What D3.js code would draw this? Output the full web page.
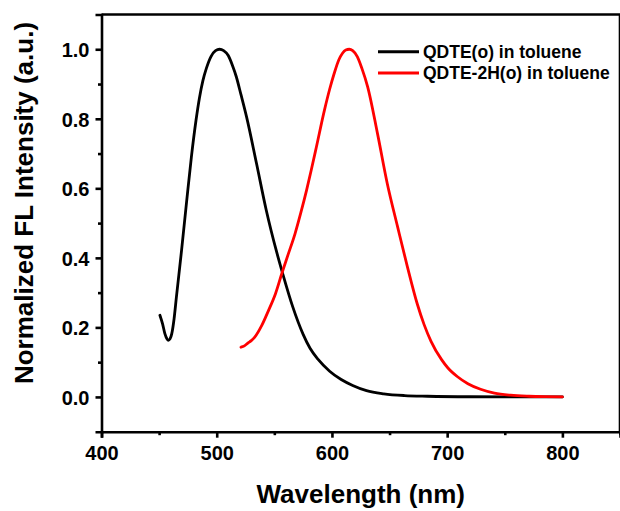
<!DOCTYPE html>
<html>
<head>
<meta charset="utf-8">
<script src="https://cdn.jsdelivr.net/npm/d3@7/dist/d3.min.js"></script>
<style>
  html, body { margin: 0; padding: 0; background: #fff; }
  svg text { font-family: "Liberation Sans", Arial, Helvetica, sans-serif; font-weight: bold; fill: #000; }
</style>
</head>
<body>
<svg id="chart" width="620" height="511"></svg>
<script>
// ---- data ----
const seriesNames = ["QDTE(o) in toluene", "QDTE-2H(o) in toluene"];
const seriesColors = ["#000000", "#ff0000"];

const blackWavelength = [450.7, 453, 455, 457, 458, 459.5, 461, 463, 465, 469.5, 474, 478, 482, 485, 488, 491, 495, 499, 502.5, 506, 510, 513.5, 517, 521, 526, 534.5, 543, 552, 557.5, 566, 575, 581, 588, 598, 608, 618, 630, 645, 663, 683, 720, 760, 800];
const blackIntensity  = [0.235, 0.21, 0.182, 0.166, 0.163, 0.167, 0.182, 0.225, 0.287, 0.422, 0.566, 0.69, 0.795, 0.86, 0.91, 0.945, 0.979, 0.996, 1.0, 0.996, 0.982, 0.955, 0.921, 0.87, 0.804, 0.672, 0.537, 0.417, 0.352, 0.259, 0.18, 0.14, 0.108, 0.074, 0.05, 0.033, 0.018, 0.009, 0.004, 0.002, 0.0005, 0.0002, 0];

const redWavelength = [521, 524, 527, 530, 533, 539, 545, 551, 556.5, 562, 568, 573, 578, 582, 586.5, 593.5, 598, 602, 606, 609, 612, 615, 618, 622, 626, 631, 639.5, 648, 657, 665.5, 674, 680, 686, 695, 700.5, 709, 718, 729, 741, 755, 771, 785, 800];
const redIntensity  = [0.143, 0.147, 0.155, 0.162, 0.172, 0.205, 0.249, 0.297, 0.355, 0.41, 0.47, 0.53, 0.595, 0.652, 0.719, 0.825, 0.885, 0.931, 0.97, 0.988, 0.998, 1.0, 0.996, 0.979, 0.945, 0.892, 0.758, 0.614, 0.489, 0.374, 0.268, 0.208, 0.16, 0.108, 0.084, 0.058, 0.038, 0.022, 0.011, 0.005, 0.002, 0.0007, 0];

const xTicks = [400, 500, 600, 700, 800];
const xMinorTicks = [450, 550, 650, 750, 850];
const yTicks = [0.0, 0.2, 0.4, 0.6, 0.8, 1.0];
const yMinorTicks = [0.1, 0.3, 0.5, 0.7, 0.9];

const xTitle = "Wavelength (nm)";
const yTitle = "Normalized FL Intensity (a.u.)";

// ---- layout ----
const svg = d3.select("#chart");
const mLeft = 101.5, mRight = 620, mTop = 14.5, mBottom = 431.7;

const x = d3.scaleLinear().domain([400, 850]).range([mLeft, mRight]);
const y = d3.scaleLinear().domain([-0.1, 1.1]).range([mBottom, mTop]);

// curves
const line = d3.line().x(d => x(d[0])).y(d => y(d[1])).curve(d3.curveMonotoneX);
const series = [
  d3.zip(blackWavelength, blackIntensity),
  d3.zip(redWavelength, redIntensity)
];
series.forEach((s, i) => {
  svg.append("path").datum(s)
    .attr("d", line)
    .attr("fill", "none")
    .attr("stroke", seriesColors[i])
    .attr("stroke-width", 2.8)
    .attr("stroke-linejoin", "round")
    .attr("stroke-linecap", "round");
});

// frame (top & right)
svg.append("line").attr("x1", mLeft).attr("x2", mRight).attr("y1", mTop).attr("y2", mTop)
  .attr("stroke", "#000").attr("stroke-width", 2.6);
svg.append("line").attr("x1", mRight).attr("x2", mRight).attr("y1", mTop).attr("y2", mBottom)
  .attr("stroke", "#000").attr("stroke-width", 2.6);

// axes
const xAxis = svg.append("g").attr("transform", `translate(0,${mBottom})`)
  .call(d3.axisBottom(x).tickValues(xTicks).tickFormat(d3.format("d")).tickSize(6).tickPadding(8));
const xMinor = svg.append("g").attr("transform", `translate(0,${mBottom})`)
  .call(d3.axisBottom(x).tickValues(xMinorTicks).tickFormat("").tickSize(3.5));
const yAxis = svg.append("g").attr("transform", `translate(${mLeft},0)`)
  .call(d3.axisLeft(y).tickValues(yTicks).tickFormat(d3.format(".1f")).tickSize(6).tickPadding(6));
const yMinor = svg.append("g").attr("transform", `translate(${mLeft},0)`)
  .call(d3.axisLeft(y).tickValues(yMinorTicks).tickFormat("").tickSize(3.5));

[xAxis, xMinor, yAxis, yMinor].forEach(g => {
  g.select(".domain").attr("stroke", "#000").attr("stroke-width", 2.6);
  g.selectAll(".tick line").attr("stroke", "#000").attr("stroke-width", 2.6);
  g.selectAll(".tick text").style("font-size", "20px").attr("fill", "#000");
});
xMinor.select(".domain").remove();
yMinor.select(".domain").remove();
yAxis.selectAll(".tick text").attr("dy", "0.36em");

// axis titles
svg.append("text")
  .attr("x", (mLeft + mRight) / 2).attr("y", 503)
  .attr("text-anchor", "middle")
  .style("font-size", "26px")
  .text(xTitle);
svg.append("text")
  .attr("transform", `translate(33,203) rotate(-90)`)
  .attr("text-anchor", "middle")
  .style("font-size", "26px")
  .text(yTitle);

// legend
const legY = [51.7, 73];
seriesNames.forEach((name, i) => {
  svg.append("line")
    .attr("x1", 378).attr("x2", 419)
    .attr("y1", legY[i]).attr("y2", legY[i])
    .attr("stroke", seriesColors[i]).attr("stroke-width", 3);
  svg.append("text")
    .attr("x", 423).attr("y", legY[i])
    .attr("dy", "0.36em")
    .style("font-size", "17.5px")
    .text(name);
});
</script>
</body>
</html>
